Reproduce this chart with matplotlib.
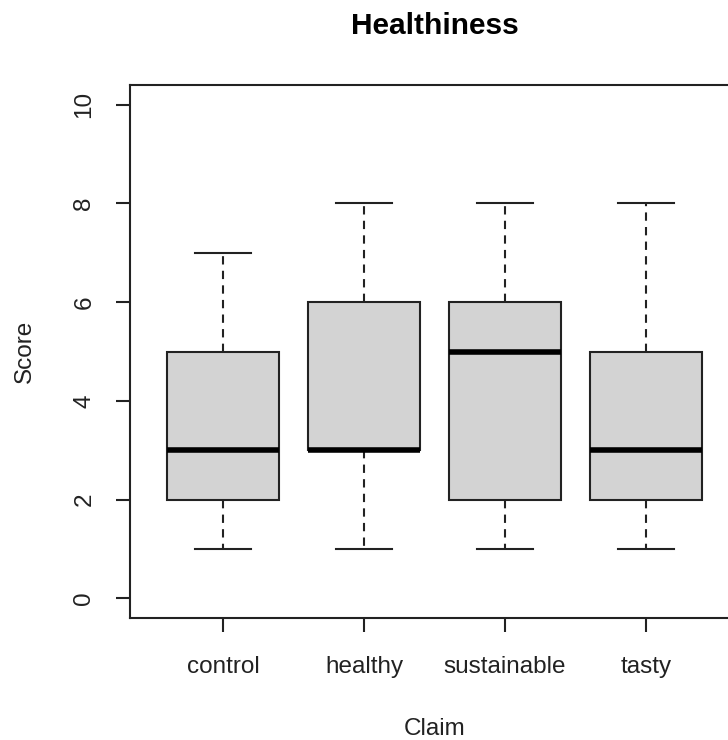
import matplotlib
matplotlib.use("Agg")
import matplotlib.pyplot as plt

# five-number summaries per claim
claims = ["control", "healthy", "sustainable", "tasty"]
whislo = [1, 1, 1, 1]
q1 = [2, 3, 2, 2]
med = [3, 3, 5, 3]
q3 = [5, 6, 6, 5]
whishi = [7, 8, 8, 8]
yticks = [0, 2, 4, 6, 8, 10]

plt.rcParams['font.family'] = ['Liberation Sans', 'DejaVu Sans']

fig = plt.figure(figsize=(7.28, 7.40), dpi=100)
ax = fig.add_axes([130 / 728, 1 - 618 / 740, 609 / 728, 533 / 740])

stats = []
for i in range(len(claims)):
    stats.append({"label": claims[i], "whislo": whislo[i], "q1": q1[i],
                  "med": med[i], "q3": q3[i], "whishi": whishi[i], "fliers": []})

ax.bxp(stats, positions=range(1, 5), widths=0.8, patch_artist=True,
       showfliers=False,
       boxprops=dict(facecolor="#d3d3d3", edgecolor="#222222", linewidth=1.5),
       medianprops=dict(color="black", linewidth=4, solid_capstyle="butt"),
       whiskerprops=dict(color="#222222", linewidth=1.5, linestyle=(0, (4, 3))),
       capprops=dict(color="#222222", linewidth=1.5),
       capwidths=0.4)

ax.set_xlim(0.34, 4.66)
ax.set_ylim(-0.4, 10.4)
ax.set_yticks(yticks)
ax.set_yticklabels([str(v) for v in yticks], rotation=90, va="center")
ax.set_xticks(range(1, 5))
ax.set_xticklabels(claims)
ax.tick_params(axis="both", length=10, width=1.5, labelsize=17.5,
               color="#222222", labelcolor="#222222")
ax.tick_params(axis="y", pad=15)
ax.tick_params(axis="x", pad=17.5)
for s in ax.spines.values():
    s.set_linewidth(1.5)
    s.set_color("#222222")

ax.set_title("Healthiness", fontsize=21.5, fontweight="bold", pad=37)
ax.set_ylabel("Score", fontsize=17.5, labelpad=27, color="#222222")
ax.set_xlabel("Claim", fontsize=17.5, labelpad=29, color="#222222")

fig.savefig("out.png", dpi=100)
